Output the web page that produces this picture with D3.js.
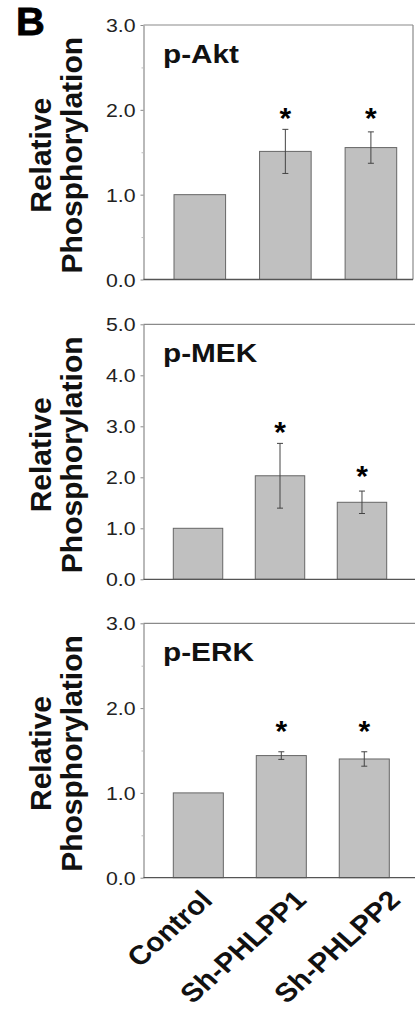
<!DOCTYPE html>
<html>
<head>
<meta charset="utf-8">
<script src="https://cdn.jsdelivr.net/npm/d3@7"></script>
<style>
  body { margin: 0; background: #fff; }
  text { font-family: "Liberation Sans", Arial, Helvetica, sans-serif; }
</style>
</head>
<body>
<div id="chart"></div>
<script>
// Categories and panel names
const categories = ["Control", "Sh-PHLPP1", "Sh-PHLPP2"];
const panelNames = ["p-Akt", "p-MEK", "p-ERK"];

// Values (mean, +/- error, asterisk height)
const aktValues = [1.0, 1.51, 1.555];
const aktErrors = [0, 0.26, 0.185];
const aktStars = [null, 1.96, 1.96];

const mekValues = [1.0, 2.03, 1.51];
const mekErrors = [0, 0.635, 0.22];
const mekStars = [null, 2.99, 2.13];

const erkValues = [1.0, 1.44, 1.40];
const erkErrors = [0, 0.045, 0.085];
const erkStars = [null, 1.79, 1.79];

// Tick values
const aktTicks = [0, 1, 2, 3];
const mekTicks = [0, 1, 2, 3, 4, 5];
const erkTicks = [0, 1, 2, 3];
const minorTicks = [0.5, 1.5, 2.5];

const width = 415, height = 1020;
const axisX = 143.5;

const svg = d3.select("#chart")
  .append("svg")
    .attr("width", width)
    .attr("height", height);

// Panel layout (pixels)
const panels = [
  {name: panelNames[0], values: aktValues, errors: aktErrors, stars: aktStars, ticks: aktTicks, minor: minorTicks,
   top: 25, bottom: 279.5, bars: [174, 396.7], right: 413, border: true},
  {name: panelNames[1], values: mekValues, errors: mekErrors, stars: mekStars, ticks: mekTicks, minor: [],
   top: 324.3, bottom: 579.3, bars: [173.3, 386.7], right: 416, border: false},
  {name: panelNames[2], values: erkValues, errors: erkErrors, stars: erkStars, ticks: erkTicks, minor: minorTicks,
   top: 623.3, bottom: 877.7, bars: [173.3, 389.3], right: 416, border: false}
];

// Panel letter
svg.append("text")
  .attr("transform", "translate(16,35) scale(1.05,1)")
  .attr("font-size", 38)
  .attr("font-weight", 900)
  .attr("fill", "#000")
  .attr("stroke", "#000")
  .attr("stroke-width", 0.8)
  .text("B");

panels.forEach((p, pi) => {
  const data = categories.map((c, i) => ({cat: c, v: p.values[i], e: p.errors[i], s: p.stars[i]}));

  const x = d3.scaleBand()
    .domain(categories)
    .range(p.bars)
    .paddingInner(0.397)
    .paddingOuter(0);

  const y = d3.scaleLinear()
    .domain([0, d3.max(p.ticks)])
    .range([p.bottom, p.top]);

  const g = svg.append("g");

  // Top frame line
  g.append("line")
    .attr("x1", axisX).attr("x2", p.right)
    .attr("y1", y(d3.max(p.ticks))).attr("y2", y(d3.max(p.ticks)))
    .attr("stroke", "#8a8a8a").attr("stroke-width", 1.2);

  if (p.border) {
    g.append("line")
      .attr("x1", p.right).attr("x2", p.right)
      .attr("y1", p.top).attr("y2", p.bottom)
      .attr("stroke", "#8a8a8a").attr("stroke-width", 1.2);
  }

  // Bars
  g.selectAll("rect.bar")
    .data(data)
    .enter()
    .append("rect")
      .attr("class", "bar")
      .attr("x", d => x(d.cat))
      .attr("y", d => y(d.v))
      .attr("width", x.bandwidth())
      .attr("height", d => y(0) - y(d.v))
      .attr("fill", "#c0c0c0")
      .attr("stroke", "#666")
      .attr("stroke-width", 1);

  // Error bars
  const errs = data.filter(d => d.e > 0);
  const cx = d => x(d.cat) + x.bandwidth() / 2;
  g.selectAll("line.err")
    .data(errs)
    .enter()
    .append("line")
      .attr("x1", cx).attr("x2", cx)
      .attr("y1", d => y(d.v + d.e)).attr("y2", d => y(d.v - d.e))
      .attr("stroke", "#444").attr("stroke-width", 1);
  [1, -1].forEach(sgn => {
    g.selectAll(null)
      .data(errs)
      .enter()
      .append("line")
        .attr("x1", d => cx(d) - 3).attr("x2", d => cx(d) + 3)
        .attr("y1", d => y(d.v + sgn * d.e)).attr("y2", d => y(d.v + sgn * d.e))
        .attr("stroke", "#444").attr("stroke-width", 1);
  });

  // Asterisks
  g.selectAll("text.star")
    .data(data.filter(d => d.s !== null))
    .enter()
    .append("text")
      .attr("class", "star")
      .attr("x", cx)
      .attr("y", d => y(d.s) + 15)
      .attr("text-anchor", "middle")
      .attr("font-size", 30)
      .attr("font-weight", "bold")
      .text("*");

  // Y axis
  const yAxis = g.append("g")
    .attr("transform", `translate(${axisX},0)`)
    .call(d3.axisLeft(y)
      .tickValues(p.ticks)
      .tickFormat(d3.format(".1f"))
      .tickSize(3)
      .tickSizeOuter(0)
      .tickPadding(0));
  yAxis.select(".domain").attr("stroke", "#8a8a8a").attr("stroke-width", 1.2);
  yAxis.selectAll(".tick line").attr("stroke", "#8a8a8a");
  yAxis.selectAll(".tick text")
    .attr("x", null).attr("dy", null)
    .attr("transform", `translate(-8,${0.36 * 18.5}) scale(1.15,1)`)
    .attr("font-size", 18.5)
    .attr("font-family", "'Liberation Sans', Arial, sans-serif")
    .attr("fill", "#222");

  if (p.minor.length) {
    g.append("g")
      .attr("transform", `translate(${axisX},0)`)
      .call(d3.axisLeft(y).tickValues(p.minor).tickFormat("").tickSize(2).tickSizeOuter(0))
      .call(a => a.select(".domain").remove())
      .selectAll(".tick line").attr("stroke", "#bbb");
  }

  // Bottom axis line
  g.append("line")
    .attr("x1", axisX).attr("x2", p.right)
    .attr("y1", y(0)).attr("y2", y(0))
    .attr("stroke", "#555").attr("stroke-width", 1.3);

  // Panel label
  g.append("text")
    .attr("transform", `translate(163,${p.top + 38}) scale(1.19,1)`)
    .attr("font-size", 25)
    .attr("font-weight", "bold")
    .attr("fill", "#111")
    .text(p.name);

  // Y axis title
  const cy = (p.top + p.bottom) / 2 + 3;
  g.append("text")
    .attr("transform", `translate(51,${cy}) rotate(-90)`)
    .attr("text-anchor", "middle")
    .attr("font-size", 30)
    .attr("font-weight", "bold")
    .attr("fill", "#111")
    .text("Relative");
  g.append("text")
    .attr("transform", `translate(82,${cy}) rotate(-90)`)
    .attr("text-anchor", "middle")
    .attr("font-size", 30)
    .attr("font-weight", "bold")
    .attr("fill", "#111")
    .text("Phosphorylation");

  // Category labels under last panel
  if (pi === panels.length - 1) {
    const labelX = d3.scalePoint().domain(categories).range([214, 402]);
    g.selectAll("text.cat")
      .data(categories)
      .enter()
      .append("text")
        .attr("class", "cat")
        .attr("transform", d => `translate(${labelX(d)},${p.bottom + 24}) scale(1.12,1) rotate(-45)`)
        .attr("text-anchor", "end")
        .attr("font-size", 26.5)
        .attr("font-weight", "bold")
        .attr("fill", "#111")
        .text(d => d);
  }
});
</script>
</body>
</html>
